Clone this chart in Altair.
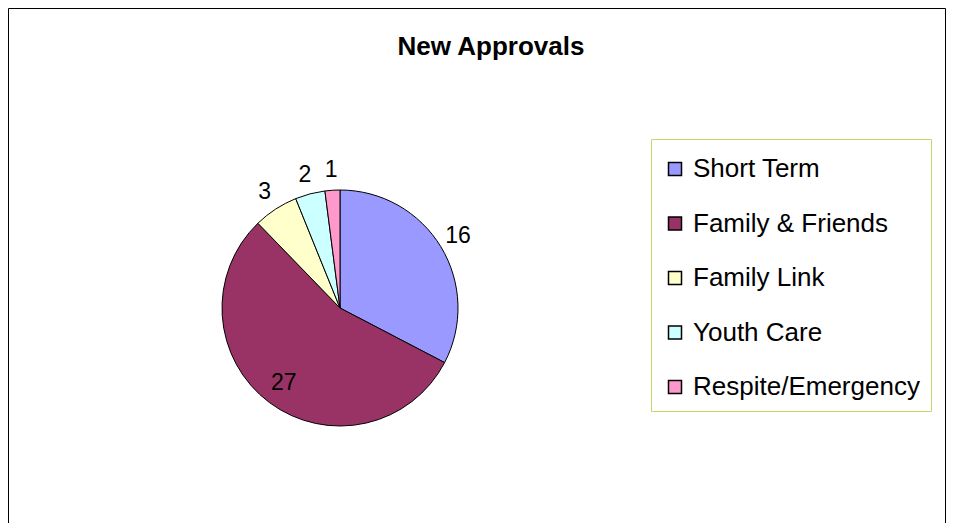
import altair as alt
import pandas as pd

title_text = "New Approvals"
categories = ["Short Term", "Family & Friends", "Family Link", "Youth Care", "Respite/Emergency"]
values = [16, 27, 3, 2, 1]
colors = ["#9999FF", "#993366", "#FFFFCC", "#CCFFFF", "#FF99CC"]

df = pd.DataFrame({"category": categories, "value": values, "idx": list(range(len(categories)))})

CX, CY, R = 332, 300, 118
FONT = "Liberation Sans"

color = alt.Color(
    "category:N",
    scale=alt.Scale(domain=categories, range=colors),
    legend=alt.Legend(
        title=" ", titleFontSize=6, titlePadding=0, orient="none", legendX=643, legendY=131,
        symbolType="square", symbolSize=169, symbolStrokeColor="black", symbolStrokeWidth=1.5,
        labelFont=FONT, labelFontSize=26, labelColor="black", labelOffset=5, labelLimit=400,
        rowPadding=28.5, padding=11, strokeColor="#BDDB6C", fillColor="white",
    ),
)

base = alt.Chart(df).encode(x=alt.value(CX), y=alt.value(CY))

frame = alt.Chart(df).mark_rect(fill="white", stroke="black", strokeWidth=1).encode(
    x=alt.value(0.5), x2=alt.value(937.5), y=alt.value(0.5), y2=alt.value(560)
).transform_filter(alt.datum.idx == 0)

title = alt.Chart(pd.DataFrame({"t": [title_text]})).mark_text(
    font=FONT, fontSize=26, fontWeight="bold", color="black", align="center", baseline="alphabetic"
).encode(text="t:N", x=alt.value(483), y=alt.value(47))

pie = base.mark_arc(outerRadius=R, stroke="black", strokeWidth=1).encode(
    theta=alt.Theta("value:Q", stack=True),
    order=alt.Order("idx:Q"),
    color=color,
)

lab = base.transform_joinaggregate(total="sum(value)").transform_window(
    cum="sum(value)", sort=[alt.SortField("idx")], frame=[None, 0]
).transform_calculate(
    mid="2 * PI * (datum.cum - datum.value / 2) / datum.total"
).encode(theta=alt.Theta("mid:Q", scale=None), text="value:Q")

labels_out = lab.mark_text(radius=R + 20, font=FONT, fontSize=23, color="black").transform_filter(
    alt.datum.category != "Family & Friends"
)
labels_in = lab.mark_text(radius=R - 24, font=FONT, fontSize=23, color="black").transform_filter(
    alt.datum.category == "Family & Friends"
)

chart = alt.layer(frame, title, pie, labels_out, labels_in).properties(
    width=938, height=515,
    autosize=alt.AutoSizeParams(type="none"),
    padding=0,
    background="white",
).configure_view(stroke=None)

chart.save("out.html", embed_options={"renderer": "svg", "actions": False})
